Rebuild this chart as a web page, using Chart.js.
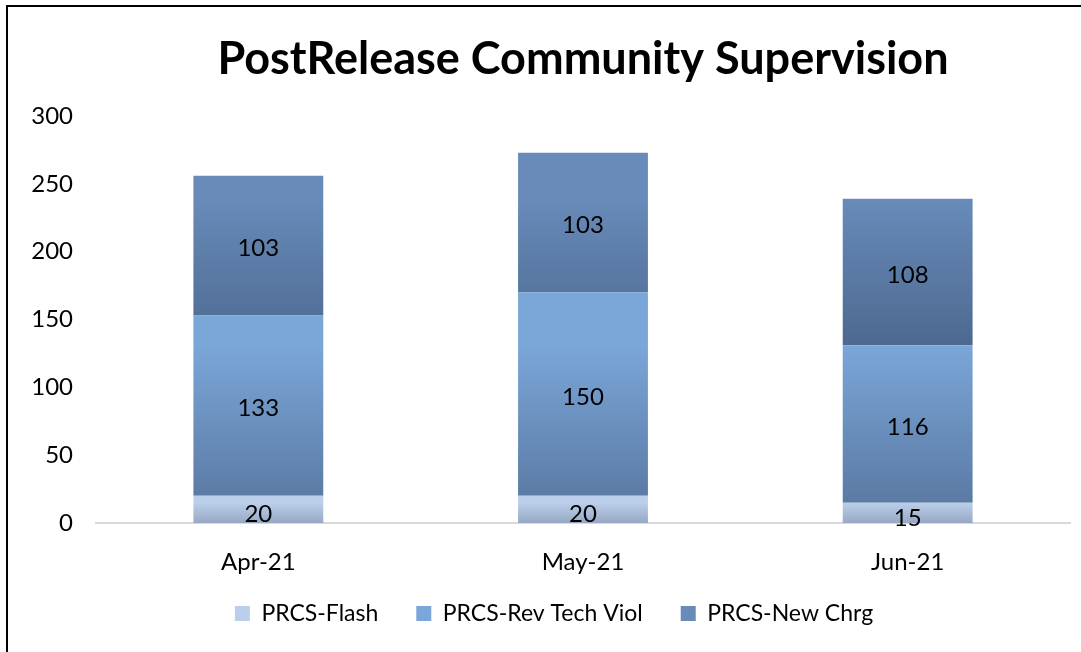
<!DOCTYPE html>
<html lang="en">
<head>
    <meta charset="UTF-8">
    <title>PostRelease Community Supervision</title>
    <script src="https://cdn.jsdelivr.net/npm/chart.js"></script>
    <style>
        html, body { margin: 0; padding: 0; background: #fff; overflow: hidden; }
        #frame {
            position: absolute; left: 6px; top: 5px; width: 1200px; height: 800px;
            border-left: 2px solid #000; border-top: 2px solid #000;
        }
        #wrap { position: absolute; left: 0; top: 0; width: 1081px; height: 652px; }
    </style>
</head>
<body>
    <div id="frame"></div>
    <div id="wrap"><canvas id="chart" width="1081" height="652"></canvas></div>

    <script>
        // chart data
        const months = ['Apr-21', 'May-21', 'Jun-21'];
        const flash = [20, 20, 15];
        const revTechViol = [133, 150, 116];
        const newChrg = [103, 103, 108];
        const yTicks = [0, 50, 100, 150, 200, 250, 300];

        const FONT = 'Lato, "Open Sans", sans-serif';

        // top/bottom colours of each segment's vertical gradient
        const shades = [
            ['#bccfea', '#96a8c3'],
            ['#7aa6d8', '#5b7aa4'],
            ['#688bb9', '#4d6990']
        ];

        // paint each bar segment with its own gradient
        const gradientBars = {
            id: 'gradientBars',
            beforeDatasetsDraw(chart) {
                const ctx = chart.ctx;
                chart.data.datasets.forEach((ds, i) => {
                    chart.getDatasetMeta(i).data.forEach(el => {
                        const g = ctx.createLinearGradient(0, el.y, 0, el.base);
                        g.addColorStop(0, shades[i][0]);
                        g.addColorStop(1, shades[i][1]);
                        el.options.backgroundColor = g;
                    });
                });
            }
        };

        // value labels in the middle of each segment
        const segmentLabels = {
            id: 'segmentLabels',
            afterDatasetsDraw(chart) {
                const ctx = chart.ctx;
                ctx.save();
                ctx.font = '24px ' + FONT;
                ctx.fillStyle = '#000';
                ctx.textAlign = 'center';
                ctx.textBaseline = 'middle';
                chart.data.datasets.forEach((ds, i) => {
                    chart.getDatasetMeta(i).data.forEach((el, j) => {
                        const p = el.getCenterPoint();
                        ctx.fillText(String(ds.data[j]), p.x, p.y + (i === 0 ? 5 : 3));
                    });
                });
                ctx.restore();
            }
        };

        // legend: wide gaps between items but a short box, drawn a bit higher;
        // title centred a bit to the right like the original
        const boxTweaks = {
            id: 'boxTweaks',
            beforeLayout(chart) {
                const lg = chart.legend;
                if (lg && !lg._patched) {
                    const fit = lg.fit.bind(lg);
                    lg.fit = function () { fit(); this.height = 69; };
                    lg._patched = true;
                }
            },
            afterLayout(chart) {
                const lg = chart.legend;
                lg.top = 564;
                lg.left += 38;
                chart.titleBlock.left += 96;
            }
        };

        new Chart(document.getElementById('chart'), {
            type: 'bar',
            data: {
                labels: months,
                datasets: [
                    { label: 'PRCS-Flash', data: flash, backgroundColor: shades[0][0] },
                    { label: 'PRCS-Rev Tech Viol', data: revTechViol, backgroundColor: shades[1][0] },
                    { label: 'PRCS-New Chrg', data: newChrg, backgroundColor: shades[2][0] }
                ]
            },
            options: {
                responsive: false,
                animation: false,
                layout: { padding: { left: 0, right: 11, top: 0, bottom: 0 } },
                datasets: {
                    bar: { barPercentage: 0.4, categoryPercentage: 1, borderWidth: 0 }
                },
                scales: {
                    x: {
                        stacked: true,
                        grid: { display: false },
                        border: { display: true, color: '#d9d9d9', width: 2 },
                        ticks: { color: '#000', font: { family: FONT, size: 24 }, padding: 17 },
                        afterFit(scale) { scale.height = 60; }
                    },
                    y: {
                        stacked: true,
                        min: 0,
                        max: 300,
                        afterBuildTicks(scale) { scale.ticks = yTicks.map(v => ({ value: v })); },
                        grid: { display: false },
                        border: { display: false },
                        ticks: { color: '#000', font: { family: FONT, size: 24 }, padding: 15 },
                        afterFit(scale) { scale.width = 96; }
                    }
                },
                plugins: {
                    title: {
                        display: true,
                        text: 'PostRelease Community Supervision',
                        color: '#000',
                        font: { family: FONT, size: 45, weight: 'bold', lineHeight: 1.2 },
                        padding: { top: 32, bottom: 30 }
                    },
                    legend: {
                        position: 'bottom',
                        labels: {
                            color: '#000',
                            font: { family: FONT, size: 23 },
                            boxWidth: 15,
                            boxHeight: 15,
                            padding: 38,
                            generateLabels(chart) {
                                return chart.data.datasets.map((ds, i) => ({
                                    text: ds.label,
                                    fillStyle: shades[i][0],
                                    strokeStyle: shades[i][1],
                                    lineWidth: 0,
                                    datasetIndex: i
                                }));
                            }
                        }
                    },
                    tooltip: { enabled: false }
                }
            },
            plugins: [gradientBars, segmentLabels, boxTweaks]
        });
    </script>
</body>
</html>
